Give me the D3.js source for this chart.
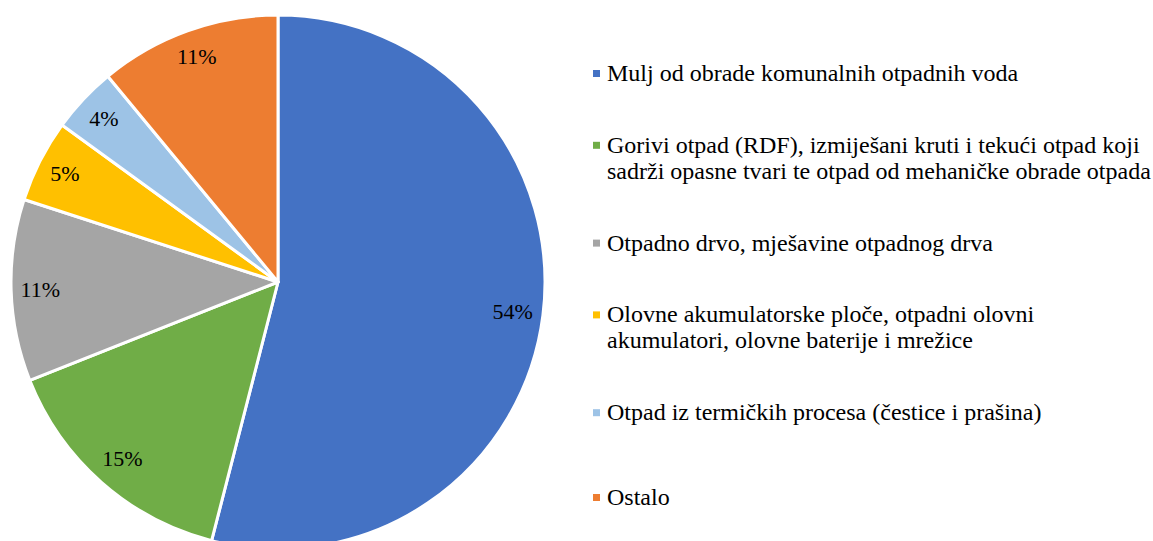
<!DOCTYPE html>
<html lang="hr">
<head>
  <meta charset="UTF-8">
  <title>Udio otpada</title>
  <script src="https://d3js.org/d3.v7.min.js"></script>
  <style>
    body { margin: 0; background: #fff; }
    svg text { font-family: "Liberation Serif", "Times New Roman", serif; fill: #000; }
  </style>
</head>
<body>
  <svg id="chart" width="1153" height="541"></svg>

  <script>
    // categories, each split into the lines shown in the legend
    const categories = [
      ["Mulj od obrade komunalnih otpadnih voda"],
      ["Gorivi otpad (RDF), izmiješani kruti i tekući otpad koji", "sadrži opasne tvari te otpad od mehaničke obrade otpada"],
      ["Otpadno drvo, mješavine otpadnog drva"],
      ["Olovne akumulatorske ploče, otpadni olovni", "akumulatori, olovne baterije i mrežice"],
      ["Otpad iz termičkih procesa (čestice i prašina)"],
      ["Ostalo"]
    ];
    const values = [54, 15, 11, 5, 4, 11];
    const colors = ["#4472C4", "#70AD47", "#A5A5A5", "#FFC000", "#9DC3E6", "#ED7D31"];

    const svg = d3.select("#chart");
    const cx = 278, cy = 282, r = 267;

    const pie = d3.pie().sort(null).value(d => d);
    const arcs = pie(values);
    const arc = d3.arc().innerRadius(0).outerRadius(r);

    const g = svg.append("g").attr("transform", `translate(${cx},${cy})`);

    g.selectAll("path")
      .data(arcs)
      .join("path")
      .attr("d", arc)
      .attr("fill", (d, i) => colors[i])
      .attr("stroke", "#fff")
      .attr("stroke-width", 3)
      .attr("stroke-linejoin", "round");

    // labels placed near the inside end of each slice
    const labels = g.selectAll("text.lbl")
      .data(arcs)
      .join("text")
      .attr("class", "lbl")
      .attr("font-size", 22)
      .attr("text-anchor", "middle")
      .attr("dominant-baseline", "central")
      .text(d => d.value + "%");

    labels.each(function(d) {
      const bb = this.getBBox();
      const a = (d.startAngle + d.endAngle) / 2;
      const s = Math.sin(a), c = Math.cos(a);
      const rr = 258 - (Math.abs(s) * bb.width / 2 + Math.abs(c) * bb.height / 2);
      d3.select(this).attr("x", rr * s).attr("y", -rr * c);
    });

    // legend
    const legendY = d3.scalePoint().domain(d3.range(categories.length)).range([73, 497]);
    const lineH = 26;
    const lg = svg.append("g");
    categories.forEach((lines, i) => {
      const yTop = lines.length > 1 ? legendY(i) - lineH / 2 : legendY(i);
      lg.append("rect")
        .attr("x", 593).attr("y", yTop - 3)
        .attr("width", 7).attr("height", 7)
        .attr("fill", colors[i]);
      lines.forEach((t, j) => {
        lg.append("text")
          .attr("x", 607)
          .attr("y", yTop + j * lineH)
          .attr("font-size", 24)
          .attr("dominant-baseline", "central")
          .text(t);
      });
    });
  </script>
</body>
</html>
